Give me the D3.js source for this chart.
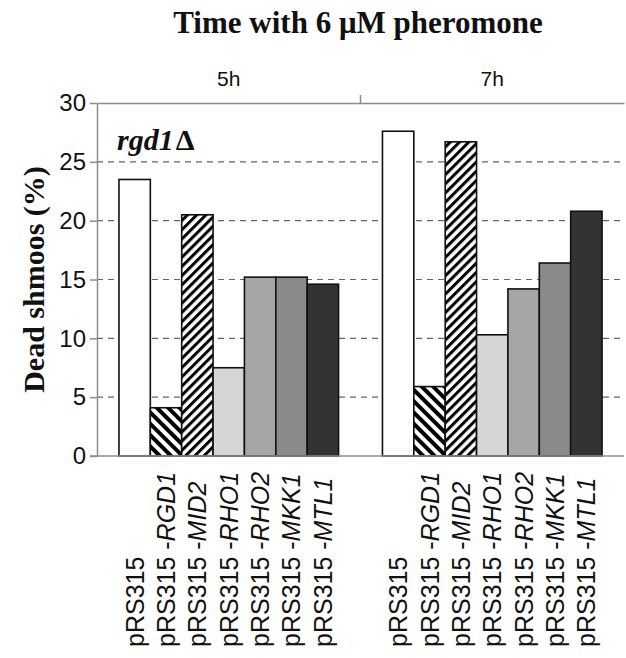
<!DOCTYPE html>
<html>
<head>
<meta charset="utf-8">
<script src="https://cdn.jsdelivr.net/npm/d3@7"></script>
<style>
  html, body { margin: 0; padding: 0; background: #fff; }
  svg { display: block; }
</style>
</head>
<body>
<svg id="chart" width="626" height="658"></svg>
<script>
// Time points (outer groups)
const times = ["5h", "7h"];
// Plasmid constructs: vector name plus the italic gene insert
const vector = "pRS315";
const inserts = ["", "RGD1", "MID2", "RHO1", "RHO2", "MKK1", "MTL1"];
// Dead shmoos (%) for each construct
const dead5h = [23.5, 4.1, 20.5, 7.5, 15.2, 15.2, 14.6];
const dead7h = [27.6, 5.9, 26.7, 10.3, 14.2, 16.4, 20.8];
// Y-axis ticks
const yTicks = [0, 5, 10, 15, 20, 25, 30];
// Fill per construct
const fills = ["#ffffff", "url(#hatchBack)", "url(#hatchFwd)", "#d6d6d6", "#a6a6a6", "#8a8a8a", "#333333"];

const series = [dead5h, dead7h];

const svg = d3.select("#chart");
const plotLeft = 97, plotRight = 624, plotTop = 103, plotBottom = 456;

// hatch patterns: "\" stripes and "/" stripes
const defs = svg.append("defs");
defs.append("pattern")
  .attr("id", "hatchBack").attr("patternUnits", "userSpaceOnUse")
  .attr("width", 8).attr("height", 8)
  .attr("patternTransform", "rotate(-45)")
  .call(p => {
    p.append("rect").attr("width", 8).attr("height", 8).attr("fill", "#fff");
    p.append("rect").attr("x", 0).attr("width", 4).attr("height", 8).attr("fill", "#000");
  });
defs.append("pattern")
  .attr("id", "hatchFwd").attr("patternUnits", "userSpaceOnUse")
  .attr("width", 6.5).attr("height", 6.5)
  .attr("patternTransform", "rotate(45)")
  .call(p => {
    p.append("rect").attr("width", 6.5).attr("height", 6.5).attr("fill", "#fff");
    p.append("rect").attr("x", 0).attr("width", 3).attr("height", 6.5).attr("fill", "#000");
  });

const x0 = d3.scaleBand().domain(times).range([plotLeft, plotRight]).paddingInner(0).paddingOuter(0);
const x1 = d3.scaleBand().domain(d3.range(inserts.length)).range([0, x0.bandwidth()])
  .paddingInner(0).paddingOuter(0.7);
const y = d3.scaleLinear().domain([0, 30]).range([plotBottom, plotTop]);

const axisColor = "#8c8c8c";

// dashed gridlines
svg.append("g")
  .selectAll("line")
  .data(yTicks.filter(t => t > 0 && t < 30))
  .join("line")
  .attr("x1", plotLeft).attr("x2", plotRight)
  .attr("y1", d => y(d)).attr("y2", d => y(d))
  .attr("stroke", "#666").attr("stroke-width", 1.2)
  .attr("stroke-dasharray", "6,5");

// left axis with outward ticks
const yAxis = svg.append("g")
  .attr("transform", `translate(${plotLeft},0)`)
  .call(d3.axisLeft(y).tickValues(yTicks).tickSize(7).tickPadding(4).tickSizeOuter(0));
yAxis.select(".domain").attr("stroke", axisColor).attr("stroke-width", 1.5);
yAxis.selectAll(".tick line").attr("stroke", axisColor).attr("stroke-width", 1.5);
yAxis.selectAll(".tick text")
  .attr("font-family", "Liberation Sans, Arial, sans-serif")
  .attr("font-size", 24).attr("fill", "#111");

// top axis carrying the time-point labels
const xTop = svg.append("g")
  .attr("transform", `translate(0,${plotTop})`)
  .call(d3.axisTop(x0).tickSize(0).tickPadding(17));
xTop.select(".domain").attr("stroke", axisColor).attr("stroke-width", 1.5);
xTop.selectAll(".tick text")
  .attr("font-family", "Liberation Sans, Arial, sans-serif")
  .attr("font-size", 21).attr("fill", "#111");
// separator tick between the groups
svg.append("line")
  .attr("x1", x0("7h")).attr("x2", x0("7h"))
  .attr("y1", plotTop).attr("y2", plotTop - 8)
  .attr("stroke", axisColor).attr("stroke-width", 1.5);

// bars
const groups = svg.append("g")
  .selectAll("g")
  .data(times)
  .join("g")
  .attr("transform", d => `translate(${x0(d)},0)`);

groups.selectAll("rect")
  .data((t, i) => series[i].map((v, j) => ({ v, j })))
  .join("rect")
  .attr("x", d => x1(d.j))
  .attr("width", x1.bandwidth())
  .attr("y", d => y(d.v))
  .attr("height", d => y(0) - y(d.v))
  .attr("fill", d => fills[d.j])
  .attr("stroke", "#111").attr("stroke-width", 1.6);

// bottom baseline
svg.append("line")
  .attr("x1", plotLeft - 7).attr("x2", plotRight)
  .attr("y1", y(0)).attr("y2", y(0))
  .attr("stroke", axisColor).attr("stroke-width", 1.5);

// rotated construct labels under each bar
groups.each(function () {
  const g = d3.select(this);
  inserts.forEach((gene, j) => {
    const cx = x1(j) + x1.bandwidth() / 2 + 9;
    const t = g.append("text")
      .attr("transform", `translate(${cx},647) rotate(-90)`)
      .attr("text-anchor", "start")
      .attr("font-family", "Liberation Sans, Arial, sans-serif")
      .attr("font-size", 25).attr("fill", "#111");
    t.append("tspan").text(gene ? vector + " -" : vector);
    if (gene) t.append("tspan").attr("font-style", "italic").text(gene);
  });
});

// chart title
svg.append("text")
  .attr("x", 358).attr("y", 33)
  .attr("text-anchor", "middle")
  .attr("font-family", "Liberation Serif, Times New Roman, serif")
  .attr("font-weight", "bold").attr("font-size", 31).attr("fill", "#111")
  .text("Time with 6 μM pheromone");

// y-axis title
svg.append("text")
  .attr("transform", `translate(44,${(plotTop + plotBottom) / 2}) rotate(-90)`)
  .attr("text-anchor", "middle")
  .attr("font-family", "Liberation Serif, Times New Roman, serif")
  .attr("font-weight", "bold").attr("font-size", 30).attr("fill", "#111")
  .text("Dead shmoos (%)");

// strain label: italic gene name with an upright delta
const strain = svg.append("text")
  .attr("x", 117).attr("y", 150)
  .attr("font-family", "Liberation Serif, Times New Roman, serif")
  .attr("font-weight", "bold")
  .attr("font-size", 30).attr("fill", "#111");
strain.append("tspan").attr("font-style", "italic").text("rgd1");
strain.append("tspan").attr("dx", 2).text("Δ");
</script>
</body>
</html>
